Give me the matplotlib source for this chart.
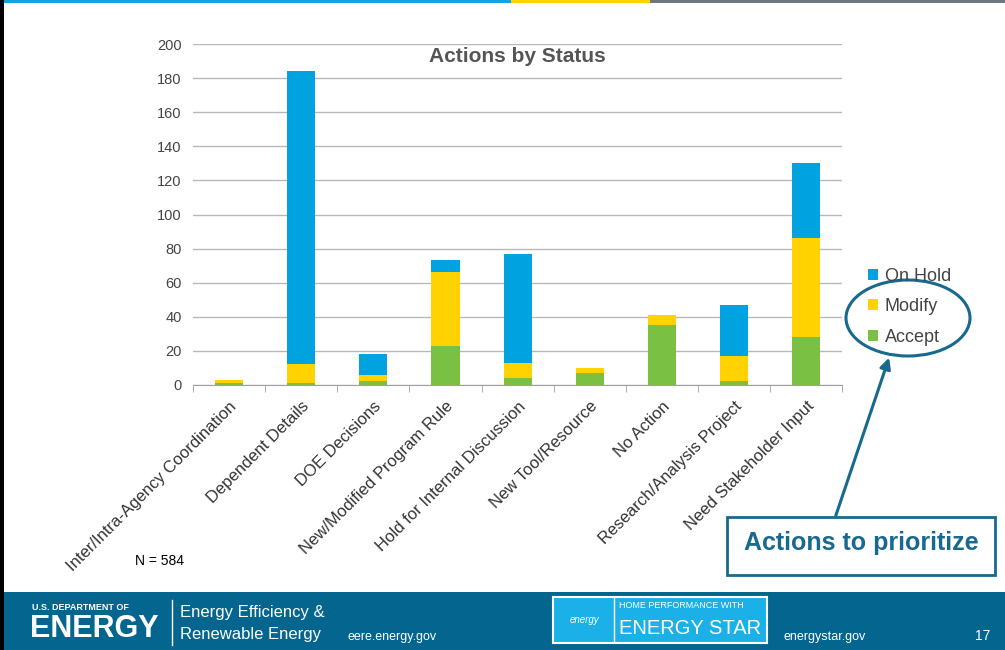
import numpy as np
import matplotlib.pyplot as plt
from matplotlib.patches import Rectangle, Ellipse, FancyArrowPatch

categories = [
    "Inter/Intra-Agency Coordination",
    "Dependent Details",
    "DOE Decisions",
    "New/Modified Program Rule",
    "Hold for Internal Discussion",
    "New Tool/Resource",
    "No Action",
    "Research/Analysis Project",
    "Need Stakeholder Input",
]
accept = [1, 1, 2, 23, 4, 7, 35, 2, 28]
modify = [2, 11, 4, 43, 9, 3, 6, 15, 58]
on_hold = [0, 172, 12, 7, 64, 0, 0, 30, 44]
y_ticks = list(range(0, 201, 20))

BLUE = "#00a3e0"
YELLOW = "#ffd200"
GREEN = "#7ac143"
TEAL = "#17698f"
FOOTER = "#04668f"

plt.rcParams["font.family"] = ["Liberation Sans", "DejaVu Sans"]

fig = plt.figure(figsize=(10.05, 6.5), dpi=100)
ax = fig.add_axes([0.192, 0.408, 0.646, 0.524])

x = np.arange(len(categories))
acc = np.array(accept)
mod = np.array(modify)
hold = np.array(on_hold)
w = 0.39
ax.bar(x, acc, w, color=GREEN, label="Accept")
ax.bar(x, mod, w, bottom=acc, color=YELLOW, label="Modify")
ax.bar(x, hold, w, bottom=acc + mod, color=BLUE, label="On Hold")

ax.set_xlim(-0.5, len(categories) - 0.5)
ax.set_ylim(0, 200)
ax.set_yticks(y_ticks)
ax.tick_params(axis="y", length=0, labelsize=10.5, colors="#444444", pad=8)
ax.yaxis.grid(True, color="#b8b8b8", linewidth=1)
ax.set_axisbelow(True)
for s in ["top", "right", "left"]:
    ax.spines[s].set_visible(False)
ax.spines["bottom"].set_color("#a0a0a0")

ax.set_xticks(x)
ax.set_xticklabels(categories, rotation=45, ha="right", rotation_mode="anchor",
                   fontsize=12, color="#333333")
ax.tick_params(axis="x", length=0, pad=10)
ax.set_xticks(np.arange(-0.5, len(categories), 1), minor=True)
ax.tick_params(axis="x", which="minor", length=5, color="#a0a0a0", direction="out")

ax.text(0.5, 0.965, "Actions by Status", transform=ax.transAxes, ha="center",
        va="center", fontsize=15, fontweight="bold", color="#555555")

# legend
handles, labels = ax.get_legend_handles_labels()
fig.legend(handles[::-1], labels[::-1], loc="center left",
           bbox_to_anchor=(0.848, 0.528), frameon=False, fontsize=13,
           handlelength=0.55, handleheight=0.55, handletextpad=0.35,
           labelspacing=0.75, labelcolor="#444444")

# annotation overlay
ov = fig.add_axes([0, 0, 1, 1], zorder=5)
ov.set_xlim(0, 1005)
ov.set_ylim(650, 0)
ov.axis("off")
ov.patch.set_alpha(0)

ov.add_patch(Ellipse((908, 318), 124, 76, fill=False, edgecolor=TEAL, lw=2.2))
ov.add_patch(FancyArrowPatch((835, 518), (890, 355), arrowstyle="-|>",
                             mutation_scale=16, color=TEAL, lw=2.2))
ov.add_patch(Rectangle((727, 517), 268, 58, fill=True, facecolor="white",
                       edgecolor=TEAL, lw=2))
ov.text(861, 543, "Actions to prioritize", ha="center", va="center",
        fontsize=18, fontweight="bold", color=TEAL)
ov.text(135, 561, "N = 584", ha="left", va="center", fontsize=10, color="black")

# top strip and border
ov.add_patch(Rectangle((0, 0), 511, 3, color="#12a4dc", lw=0))
ov.add_patch(Rectangle((511, 0), 139, 3, color="#ffd200", lw=0))
ov.add_patch(Rectangle((650, 0), 355, 3, color="#6d7780", lw=0))
ov.add_patch(Rectangle((0, 0), 4, 650, color="black", lw=0))

# footer
ov.add_patch(Rectangle((4, 592), 1001, 58, color=FOOTER, lw=0))
ov.text(32, 607, "U.S. DEPARTMENT OF", color="white", fontsize=6.5,
        fontweight="bold", va="center")
ov.text(30, 629, "ENERGY", color="white", fontsize=22, fontweight="bold",
        va="center")
ov.plot([172, 172], [600, 645], color="white", lw=1)
ov.text(180, 612, "Energy Efficiency &", color="white", fontsize=12, va="center")
ov.text(180, 635, "Renewable Energy", color="white", fontsize=12, va="center")
ov.text(348, 637, "eere.energy.gov", color="white", fontsize=9, va="center")
ov.add_patch(Rectangle((553, 597), 214, 46, facecolor="#1cb0e8",
                       edgecolor="white", lw=1.5))
ov.plot([614, 614], [598, 642], color="white", lw=1)
ov.text(584, 620, "energy", color="white", fontsize=7, style="italic",
        ha="center", va="center")
ov.text(619, 606, "HOME PERFORMANCE WITH", color="white", fontsize=6.5,
        va="center")
ov.text(690, 629, "ENERGY STAR", color="white", fontsize=14.5, va="center",
        ha="center")
ov.text(783, 637, "energystar.gov", color="white", fontsize=9, va="center")
ov.text(975, 636, "17", color="white", fontsize=10, va="center")

fig.savefig("out.png", dpi=100)
